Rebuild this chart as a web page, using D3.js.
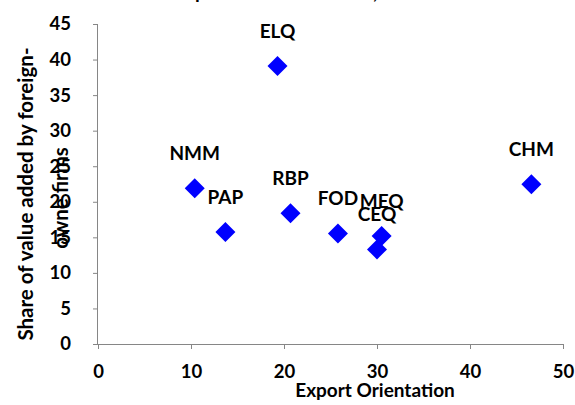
<!DOCTYPE html>
<html>
<head>
<meta charset="utf-8">
<script src="https://cdn.jsdelivr.net/npm/d3@7"></script>
<style>
  html, body { margin: 0; padding: 0; background: #fff; }
  svg { display: block; font-family: Lato, "Open Sans", sans-serif; font-weight: bold; }
  .axis text { font-family: Lato, "Open Sans", sans-serif; font-weight: bold; font-size: 18.5px; fill: #000; }
  .axis line, .axis path { stroke: #868686; }
</style>
</head>
<body>
<svg id="chart" width="575" height="405"></svg>
<script>
// Industry codes and their coordinates
const industries = ["NMM", "PAP", "ELQ", "RBP", "FOD", "MEQ", "CEQ", "CHM"];
const exportOrientation = [10.4, 13.7, 19.3, 20.7, 25.8, 30.5, 30.0, 46.6];
const foreignShare = [21.9, 15.75, 39.1, 18.4, 15.55, 15.2, 13.3, 22.45];

// Axis ticks
const xTicks = [0, 10, 20, 30, 40, 50];
const yTicks = [0, 5, 10, 15, 20, 25, 30, 35, 40, 45];

const chartTitle = "Exports and FDI shares, 2000";
const xTitle = "Export Orientation";
const yTitleLines = ["Share of value added by foreign-", "owne firms"];

const svg = d3.select("#chart");

const x = d3.scaleLinear().domain([0, 50]).range([98, 563]);
const y = d3.scaleLinear().domain([0, 45]).range([344, 24]);

// X axis
const gx = svg.append("g")
  .attr("class", "axis")
  .attr("transform", `translate(0,${y(0)})`)
  .call(d3.axisBottom(x).tickValues(xTicks).tickSize(5).tickPadding(16).tickFormat(d3.format("d")));
gx.attr("font-family", null).attr("font-size", null);
gx.select(".domain").attr("d", `M${x(0)},0.5H${x(50)}`);

// Y axis
const gy = svg.append("g")
  .attr("class", "axis")
  .attr("transform", `translate(${x(0)},0)`)
  .call(d3.axisLeft(y).tickValues(yTicks).tickSize(5).tickPadding(22).tickFormat(d3.format("d")));
gy.attr("font-family", null).attr("font-size", null);
gy.select(".domain").attr("d", `M-0.5,${y(45)}V${y(0)}`);

// Chart title (runs off the top edge; only descenders remain in view)
const title = svg.append("text")
  .attr("x", 0).attr("y", -1.5)
  .style("font-size", "20px")
  .text(chartTitle);
{
  const node = title.node();
  const pIdx = chartTitle.indexOf("p");
  const cIdx = chartTitle.indexOf(",");
  const gap = node.getStartPositionOfChar(cIdx).x - node.getStartPositionOfChar(pIdx).x;
  const fsz = 20 * 178 / gap;
  title.style("font-size", fsz + "px").attr("y", -fsz * 0.07);
  const px = node.getStartPositionOfChar(pIdx).x;
  title.attr("x", 197 - px - fsz * 0.1);
}

// X axis title
svg.append("text")
  .attr("x", 375).attr("y", 397)
  .attr("text-anchor", "middle")
  .style("font-size", "19px")
  .text(xTitle);

// Y axis title (two wrapped lines)
const yt = svg.append("g").attr("transform", "rotate(-90)");
yt.append("text")
  .attr("x", -194).attr("y", 33)
  .attr("text-anchor", "middle")
  .style("font-size", "20.5px")
  .text(yTitleLines[0]);
yt.append("text")
  .attr("x", -198).attr("y", 68)
  .attr("text-anchor", "middle")
  .style("font-size", "20.5px")
  .text(yTitleLines[1]);

// Points
const pts = industries.map((name, i) => ({ name, ex: exportOrientation[i], fs: foreignShare[i] }));
const diamond = d3.symbol().type(d3.symbolSquare).size(200);

svg.append("g").selectAll("path")
  .data(pts)
  .join("path")
  .attr("d", diamond)
  .attr("transform", d => `translate(${x(d.ex)},${y(d.fs)}) rotate(45)`)
  .attr("fill", "#0000ff");

// Data labels above each point
svg.append("g").selectAll("text")
  .data(pts)
  .join("text")
  .attr("x", d => x(d.ex))
  .attr("y", d => y(d.fs) - 28)
  .attr("text-anchor", "middle")
  .style("font-size", "19px")
  .attr("fill", "#000")
  .text(d => d.name);
</script>
</body>
</html>
